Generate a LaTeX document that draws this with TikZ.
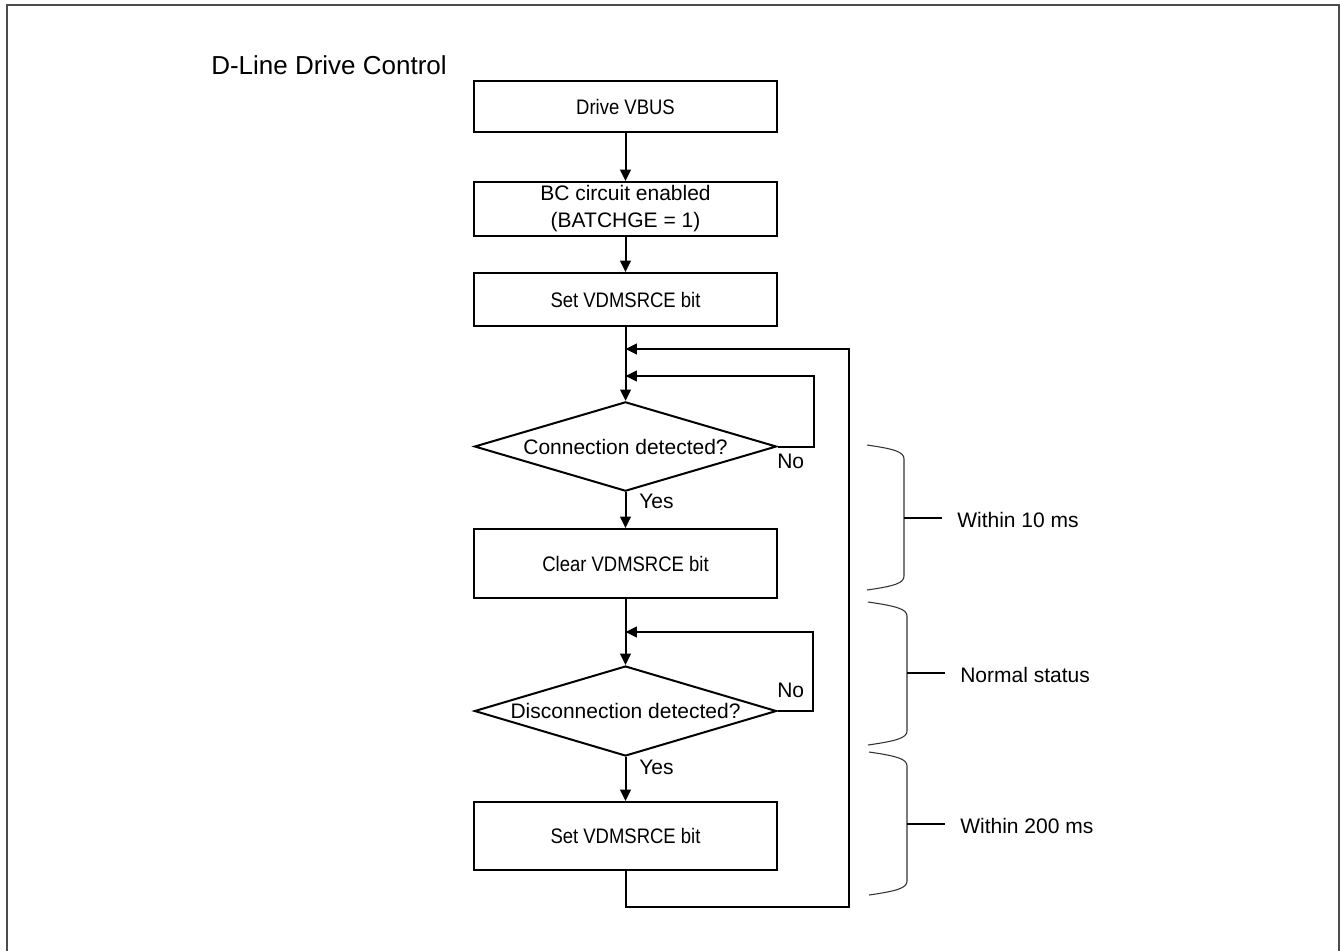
\documentclass[tikz,border=0pt]{standalone}
\usepackage{fontspec}
\setmainfont{Liberation Sans}
\newfontfamily\narrowfont[FakeStretch=0.88]{Liberation Sans}
\usetikzlibrary{arrows.meta,shapes.geometric}

% (x tip, x bar, y top, y bottom, y tick, name, text)
\newcommand{\timespan}[7]{
    \draw[bracket] (#1,#3) .. controls ({#1+28},{#3+4}) and (#2,{#3+7}) .. (#2,{#3+14})
      -- (#2,{#4-14}) .. controls (#2,{#4-7}) and ({#1+28},{#4-4}) .. (#1,#4);
    \draw[tick] (#2,#5) -- ({#2+38},#5);
    \node[lbl,anchor=base west] (#6) at ({#2+53},{#5+9}) {#7};
}

\begin{document}
\begin{tikzpicture}[x=0.75pt,y=-0.75pt,
  box/.style={draw,line width=1.5pt,minimum width=227.25pt,inner sep=0pt,
    font=\fontsize{15.75}{20.25}\selectfont,align=center},
  decision/.style={diamond,draw,line width=1.5pt,aspect=3.4,inner sep=0pt,
    minimum width=226.5pt,minimum height=67pt,font=\fontsize{15.75}{19}\selectfont},
  lbl/.style={inner sep=0pt,font=\fontsize{15.75}{19}\selectfont},
  arr/.style={line width=1.5pt,-{Triangle[length=8.5pt,width=8pt]}},
  bracket/.style={line width=0.8pt,black!80},
  tick/.style={line width=1.2pt},
  frame/.style={line width=1.6pt,black!70}]

  \useasboundingbox (0,0) rectangle (1341,951);
  \draw[frame] (7,951) -- (7,5) -- (1339,5) -- (1339,951);

  \node[lbl,anchor=base west,font=\fontsize{19.5}{23}\selectfont] (title) at (211,74) {D-Line Drive Control};

  \node[box,minimum height=38.25pt] (vbus) at (625.5,106.5) {\narrowfont Drive VBUS};
  \node[box,minimum height=40.5pt] (bcen) at (625.5,209) {BC circuit enabled\\(BATCHGE = 1)};
  \node[box,minimum height=39.75pt] (set1) at (625.5,299.5) {\narrowfont Set VDMSRCE bit};
  \node[decision] (conn) at (625.5,446.5) {Connection detected?};
  \node[box,minimum height=51.75pt] (clr) at (625.5,563.5) {\narrowfont Clear VDMSRCE bit};
  \node[decision,minimum height=67.5pt] (disc) at (625.5,711) {Disconnection detected?};
  \node[box,minimum height=51pt] (set2) at (625.5,836) {\narrowfont Set VDMSRCE bit};

  \coordinate (outer) at (625.5,349);
  \coordinate (inner1) at (625.5,376);
  \coordinate (inner2) at (625.5,632);

  \draw[arr] (vbus) -- (bcen);
  \draw[arr] (bcen) -- (set1);
  \draw[arr] (set1) -- (conn);
  \draw[arr] (conn) -- (clr);
  \draw[arr] (clr) -- (disc);
  \draw[arr] (disc) -- (set2);

  \draw[arr] (conn.east) -- (814,446.5) |- (inner1);
  \draw[arr] (disc.east) -- (813,711) |- (inner2);
  \draw[arr] (set2.south) -- (625.5,907) -- (849,907) |- (outer);

  \node[lbl,anchor=base west] (no1) at (777,468) {No};
  \node[lbl,anchor=base west] (yes1) at (639,508) {Yes};
  \node[lbl,anchor=base west] (no2) at (777,697) {No};
  \node[lbl,anchor=base west] (yes2) at (639,774) {Yes};

  \timespan{867}{904}{445}{590}{518}{t10}{Within 10 ms}
  \timespan{868}{907}{602}{745}{673}{tnorm}{Normal status}
  \timespan{869}{907}{752}{895}{824}{t200}{Within 200 ms}

\end{tikzpicture}
\end{document}
